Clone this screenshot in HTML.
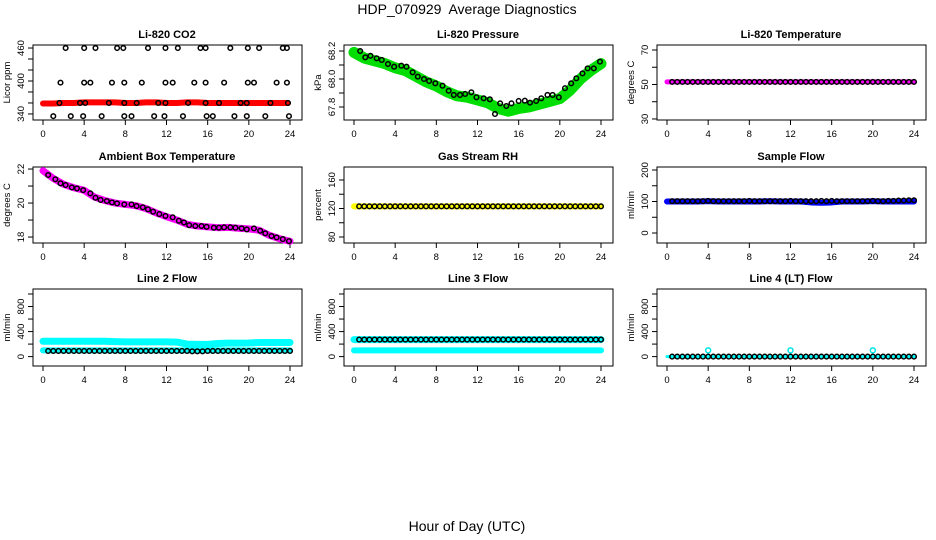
<!DOCTYPE html>
<html><head><meta charset="utf-8">
<style>
html,body{margin:0;padding:0;background:#fff;}
svg{display:block;font-family:"Liberation Sans",Arial,sans-serif;}
</style></head>
<body>
<svg id="chart" width="936" height="540" viewBox="0 0 936 540" xmlns="http://www.w3.org/2000/svg">
<text x="467" y="14" text-anchor="middle" font-size="14">HDP_070929&#160; Average Diagnostics</text>
<text x="467" y="531" text-anchor="middle" font-size="14">Hour of Day (UTC)</text>
</svg>
<script>
// ---------- data ----------
const xTicks = [0,4,8,12,16,20,24];
const halfHours = [0.5,1,1.5,2,2.5,3,3.5,4,4.5,5,5.5,6,6.5,7,7.5,8,8.5,9,9.5,10,10.5,11,11.5,12,12.5,13,13.5,14,14.5,15,15.5,16,16.5,17,17.5,18,18.5,19,19.5,20,20.5,21,21.5,22,22.5,23,23.5,24];
const hourly = [0,1,2,3,4,5,6,7,8,9,10,11,12,13,14,15,16,17,18,19,20,21,22,23,24];

const co2BlackHours = [2.2,4.0,5.1,7.2,7.8,10.2,11.9,13.1,15.3,15.8,18.2,19.9,21.0,23.3,23.7,
  1.7,4.0,4.6,6.7,7.9,9.6,11.9,12.6,14.7,15.8,17.6,19.9,20.5,22.7,23.7,
  1.6,3.6,4.1,6.4,7.9,9.1,11.2,11.9,14.1,15.8,17.1,19.2,19.8,22.1,23.8,
  1.0,2.7,3.9,5.7,7.9,8.6,10.8,11.8,13.6,15.9,16.5,18.6,19.8,21.6,23.9];
const co2BlackVals = [460,460,460,460,460,460,460,460,460,460,460,460,460,460,460,
  397,397,397,397,397,397,397,397,397,397,397,397,397,397,397,
  360,360,360,360,360,360,360,360,360,360,360,360,360,360,360,
  336,336,336,336,336,336,336,336,336,336,336,336,336,336,336];
const co2Red = [359,359,360,360,361,361,361,361,360,360,361,361,360,360,361,361,360,360,360,360,360,360,360,360,360];

const presHours = [0.6,1.1,1.6,2.2,2.7,3.3,3.9,4.6,5.1,5.7,6.2,6.8,7.3,7.9,8.6,9.2,9.7,10.3,10.8,11.4,11.9,12.6,13.2,13.7,14.2,14.8,15.3,16.0,16.6,17.1,17.7,18.2,18.8,19.3,19.9,20.5,21.1,21.6,22.2,22.7,23.3,23.9];
const presBlack = [68.2,68.155,68.166,68.148,68.136,68.107,68.088,68.095,68.088,68.048,68.017,68.0,67.986,67.969,67.952,67.916,67.886,67.886,67.893,67.905,67.869,67.862,67.855,67.75,67.826,67.807,67.826,67.843,67.845,67.831,67.843,67.862,67.886,67.886,67.869,67.934,67.969,68.005,68.04,68.076,68.076,68.124];
const presGreen = [68.19,68.15,68.13,68.11,68.08,68.06,68.02,67.98,67.95,67.91,67.88,67.87,67.85,67.83,67.79,67.77,67.79,67.8,67.82,67.84,67.86,67.92,68.0,68.06,68.11];

const licorTempBlack = [51.5,51.5,51.5,51.5,51.5,51.5,51.5,51.5,51.5,51.5,51.5,51.5,51.5,51.5,51.5,51.5,51.5,51.5,51.5,51.5,51.5,51.5,51.5,51.5,51.5,51.5,51.5,51.5,51.5,51.5,51.5,51.5,51.5,51.5,51.5,51.5,51.5,51.5,51.5,51.5,51.5,51.5,51.5,51.5,51.5,51.5,51.5,51.5];
const licorTempMagenta = [51.5,51.5,51.5,51.5,51.5,51.5,51.5,51.5,51.5,51.5,51.5,51.5,51.5,51.5,51.5,51.5,51.5,51.5,51.5,51.5,51.5,51.5,51.5,51.5,51.5];

const ambHours = [0.5,1.2,1.7,2.2,2.8,3.3,3.9,4.6,5.1,5.6,6.2,6.7,7.2,7.9,8.6,9.1,9.7,10.2,10.7,11.3,11.9,12.6,13.2,13.7,14.2,14.8,15.4,15.9,16.6,17.1,17.6,18.2,18.7,19.3,19.8,20.5,21.1,21.6,22.2,22.7,23.3,23.9];
const ambBlack = [21.65,21.4,21.16,21.06,20.92,20.86,20.76,20.57,20.31,20.18,20.12,20.04,19.98,19.92,19.92,19.82,19.75,19.63,19.49,19.35,19.24,19.16,18.96,18.86,18.7,18.65,18.65,18.6,18.55,18.55,18.57,18.57,18.55,18.51,18.45,18.51,18.37,18.22,18.06,17.98,17.88,17.76];
const ambMagenta = [21.9,21.45,21.1,20.9,20.75,20.35,20.15,20.0,19.92,19.85,19.68,19.42,19.2,19.0,18.75,18.65,18.6,18.55,18.57,18.52,18.48,18.4,18.1,17.9,17.75];

const rhBlack = [123,123,123,123,123,123,123,123,123,123,123,123,123,123,123,123,123,123,123,123,123,123,123,123,123,123,123,123,123,123,123,123,123,123,123,123,123,123,123,123,123,123,123,123,123,123,123,123];
const rhYellow = [123,123,123,123,123,123,123,123,123,123,123,123,123,123,123,123,123,123,123,123,123,123,123,123,123];

const sampleBlack = [101,101,101,101,101,101,101,102,101,101,101,101,101,101,101,102,101,101,101,101,101,101,101,102,101,101,101,101,101,102,101,102,101,101,101,101,101,101,101,102,101,101,102,102,103,103,104,104];
const sampleBlue = [100,100,100,100,101,100,100,100,100,100,101,100,100,100,97,96,97,100,100,100,101,100,100,100,100];

const l2Black = [90,90,90,90,90,90,90,90,90,90,90,90,90,90,90,90,90,90,90,90,90,90,90,90,90,90,90,90,85,85,85,90,90,90,90,90,90,90,90,90,90,90,90,90,90,90,90,90];
const l2CyanHigh = [245,245,245,245,245,245,245,240,235,235,235,235,235,232,200,195,195,210,215,215,218,225,225,225,225];
const l2CyanLow = [100,100,100,100,100,100,100,100,100,100,100,100,100,100,100,100,100,100,100,100,100,100,100,100,100];

const l3Black = [272,272,272,272,272,272,272,272,272,272,272,272,272,272,272,272,272,272,272,272,272,272,272,272,272,272,272,272,272,272,272,272,272,272,272,272,272,272,272,272,272,272,272,272,272,272,272,272];
const l3CyanHigh = [272,272,272,272,272,272,272,272,272,272,272,272,272,272,272,272,272,272,272,272,272,272,272,272,272];
const l3CyanLow = [100,100,100,100,100,100,100,100,100,100,100,100,100,100,100,100,100,100,100,100,100,100,100,100,100];

const l4Black = [0,0,0,0,0,0,0,0,0,0,0,0,0,0,0,0,0,0,0,0,0,0,0,0,0,0,0,0,0,0,0,0,0,0,0,0,0,0,0,0,0,0,0,0,0,0,0,0];
const l4Cyan = [0,0,0,0,0,0,0,0,0,0,0,0,0,0,0,0,0,0,0,0,0,0,0,0,0];
const l4SpikeHours = [4,12,20];
const l4SpikeVals = [100,100,100];

// ---------- drawing ----------
const svg = document.getElementById('chart');
const NS = 'http://www.w3.org/2000/svg';
function mk(tag, attrs, parent){
  const e = document.createElementNS(NS, tag);
  for (const k in attrs) e.setAttribute(k, attrs[k]);
  (parent||svg).appendChild(e);
  return e;
}
const cols = [33, 344, 657];
const rows = [[45,120],[167,243],[289,366]];

function panel(c, r, title, ylab, ymin, ymax, yticks, ylabels, name){
  const L = cols[c], T = rows[r][0], B = rows[r][1];
  const g = mk('g', {});
  
  
  const sx = h => L + 10 + h * (247/24);
  const sy = v => B - (v - ymin) / (ymax - ymin) * (B - T);
  const box = mk('rect', {x:L, y:T, width:269, height:B-T, fill:'none', stroke:'#000', 'stroke-width':1}, g);
  
  
  const t = mk('text', {x:L+134, y:T-7, 'text-anchor':'middle', 'font-size':11, 'font-weight':'bold'}, g);
  t.textContent = title;
  
  
  xTicks.forEach(h => {
    mk('line', {x1:sx(h), x2:sx(h), y1:B, y2:B+5, stroke:'#000'}, g);
    const tl = mk('text', {x:sx(h), y:B+17, 'text-anchor':'middle', 'font-size':9.5}, g);
    tl.textContent = h;
    
    
  });
  yticks.forEach(v => {
    mk('line', {x1:L-5, x2:L, y1:sy(v), y2:sy(v), stroke:'#000'}, g);
  });
  ylabels.forEach(v => {
    const yl = mk('text', {x:0, y:0, 'text-anchor':'middle', 'font-size':9.5,
      transform:`translate(${L-9},${sy(v)}) rotate(-90)`}, g);
    yl.textContent = v;
    
    
  });
  const at = mk('text', {x:0, y:0, 'text-anchor':'middle', 'font-size':9.5,
    transform:`translate(${L-23},${(T+B)/2}) rotate(-90)`}, g);
  at.textContent = ylab;
  
  
  const band = (hours, vals, color, w, nm) => {
    const p = mk('polyline', {points: hours.map((h,i)=>sx(h)+','+sy(vals[i])).join(' '),
      fill:'none', stroke:color, 'stroke-width':w, 'stroke-linecap':'round', 'stroke-linejoin':'round'}, g);
    
    
  };
  const pts = (hours, vals, color, nm, rad) => {
    hours.forEach((h,i) => {
      const ci = mk('circle', {cx:sx(h), cy:sy(vals[i]), r:rad||2.3, fill:'none', stroke:color, 'stroke-width':1.5}, g);
      
      
    });
  };
  return {band, pts, sx, sy};
}

let p;
p = panel(0,0,'Li-820 CO2','Licor ppm',329,465.5,[340,360,380,400,420,440,460],[340,400,460],'co2');
p.band(hourly.slice(0,24).concat([23.8]), co2Red, '#ff0000', 6, 'co2-red-series');
p.pts(co2BlackHours, co2BlackVals, '#000', 'co2-point');

p = panel(1,0,'Li-820 Pressure','kPa',67.707,68.243,[67.8,67.9,68.0,68.1,68.2],['67.8','68.0','68.2'],'pressure');
p.band(hourly, presGreen, '#00dd00', 11, 'pressure-green-series');
p.pts(presHours, presBlack, '#000', 'pressure-point');

p = panel(2,0,'Li-820 Temperature','degrees C',29.4,72.9,[30,40,50,60,70],[30,50,70],'licor-temp');
p.band(hourly, licorTempMagenta, '#ff00ff', 5, 'licor-temp-magenta-series');
p.pts(halfHours, licorTempBlack, '#000', 'licor-temp-point');

p = panel(0,1,'Ambient Box Temperature','degrees C',17.65,22.12,[18,19,20,21,22],[18,20,22],'ambient-temp');
p.band(hourly, ambMagenta, '#ff00ff', 7, 'ambient-magenta-series');
p.pts(ambHours, ambBlack, '#000', 'ambient-point');

p = panel(1,1,'Gas Stream RH','percent',71.6,178.2,[80,100,120,140,160],[80,120,160],'rh');
p.band(hourly, rhYellow, '#ffff00', 6, 'rh-yellow-series');
p.pts(halfHours, rhBlack, '#000', 'rh-point');

p = panel(2,1,'Sample Flow','ml/min',-31.7,209.5,[0,50,100,150,200],[0,100,200],'sample-flow');
p.band(hourly, sampleBlue, '#0000ff', 6, 'sample-flow-blue-series');
p.pts(halfHours, sampleBlack, '#000', 'sample-flow-point');

p = panel(0,2,'Line 2 Flow','ml/min',-150,1080,[0,200,400,600,800,1000],[0,400,800],'line2');
p.band(hourly, l2CyanHigh, '#00ffff', 7, 'line2-cyan-high-series');
p.band(hourly, l2CyanLow, '#00ffff', 6, 'line2-cyan-low-series');
p.pts(halfHours, l2Black, '#000', 'line2-point');

p = panel(1,2,'Line 3 Flow','ml/min',-150,1080,[0,200,400,600,800,1000],[0,400,800],'line3');
p.band(hourly, l3CyanHigh, '#00ffff', 7, 'line3-cyan-high-series');
p.band(hourly, l3CyanLow, '#00ffff', 6, 'line3-cyan-low-series');
p.pts(halfHours, l3Black, '#000', 'line3-point');

p = panel(2,2,'Line 4 (LT) Flow','ml/min',-150,1080,[0,200,400,600,800,1000],[0,400,800],'line4');
p.band(hourly, l4Cyan, '#00ffff', 3, 'line4-cyan-series');
p.pts(halfHours, l4Black, '#000', 'line4-point');
p.pts(l4SpikeHours, l4SpikeVals, '#00e5e5', 'line4-cyan-spike', 2.5);
</script>
</body></html>
